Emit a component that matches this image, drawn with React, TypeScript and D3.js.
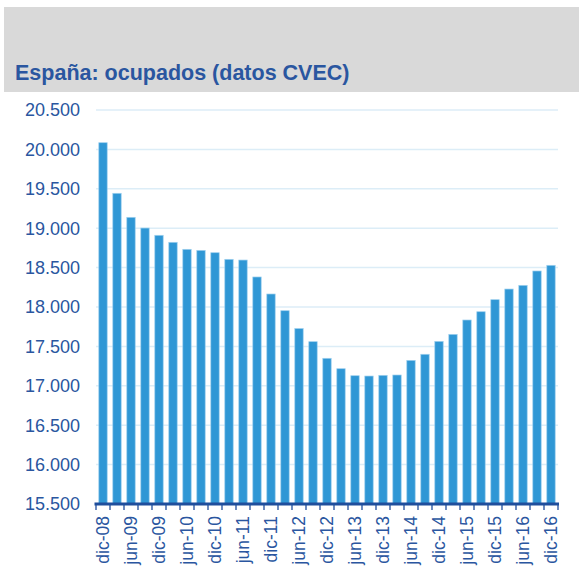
import React from "react";
import * as d3 from "d3";

const years = ["08", "09", "10", "11", "12", "13", "14", "15", "16"];
const months = ["mar", "jun", "sep", "dic"];

// quarterly periods dic-08 .. dic-16
const periods: string[] = ["dic-08"];
years.slice(1).forEach((y) => months.forEach((m) => periods.push(`${m}-${y}`)));

// ocupados, miles (CVEC)
const ocupados = [
  20085, 19443, 19138, 19002, 18910, 18821, 18732, 18719, 18689, 18605, 18596,
  18381, 18165, 17953, 17727, 17560, 17349, 17217, 17128, 17124, 17133, 17137,
  17323, 17400, 17564, 17653, 17835, 17940, 18093, 18228, 18275, 18457, 18529,
];

const yTicks = [15500, 16000, 16500, 17000, 17500, 18000, 18500, 19000, 19500, 20000, 20500];

const W = 579;
const H = 581;
const margin = { top: 110, right: 21, bottom: 77, left: 96 };
const blue = "#2a56a0";
const font = "Liberation Sans, Arial, sans-serif";

function drawChart(svgRef: React.RefObject<SVGSVGElement>) {
  const svg = d3.select(svgRef.current);
  svg.selectAll("*").remove();

  const x = d3
    .scaleBand<string>()
    .domain(periods)
    .range([margin.left, W - margin.right])
    .paddingInner(0.4)
    .paddingOuter(0.2);

  const y = d3
    .scaleLinear()
    .domain([15500, 20500])
    .range([H - margin.bottom, margin.top]);

  // header band
  svg.append("rect").attr("x", 4).attr("y", 7).attr("width", W - 4).attr("height", 85).attr("fill", "#d9d9d9");

  svg
    .append("text")
    .attr("x", 15)
    .attr("y", 80)
    .attr("font-family", font)
    .attr("font-weight", "bold")
    .attr("font-size", 21.5)
    .attr("fill", blue)
    .text("España: ocupados (datos CVEC)");

  // grid
  svg
    .append("g")
    .selectAll("line")
    .data(yTicks.slice(1))
    .join("line")
    .attr("x1", margin.left)
    .attr("x2", W - margin.right)
    .attr("y1", (d) => y(d))
    .attr("y2", (d) => y(d))
    .attr("stroke", "#dcedf7")
    .attr("stroke-width", 1.5);

  // y labels
  svg
    .append("g")
    .selectAll("text")
    .data(yTicks)
    .join("text")
    .attr("x", 80)
    .attr("y", (d) => y(d))
    .attr("dy", "0.35em")
    .attr("text-anchor", "end")
    .attr("font-family", font)
    .attr("font-size", 18)
    .attr("fill", blue)
    .text((d) => d3.format(",")(d).replace(",", "."));

  // bars
  svg
    .append("g")
    .selectAll("rect")
    .data(ocupados)
    .join("rect")
    .attr("x", (_, i) => x(periods[i])!)
    .attr("width", x.bandwidth())
    .attr("y", (d) => y(d))
    .attr("height", (d) => y(15500) - y(d))
    .attr("fill", "#2f97d5")
    .attr("stroke", "#9fd0ee")
    .attr("stroke-width", 0.7);

  // x axis
  const x0 = y(15500);
  const step = x.step();
  const edges = d3.range(periods.length + 1).map((i) => margin.left + i * step);
  svg
    .append("g")
    .selectAll("line")
    .data(edges)
    .join("line")
    .attr("x1", (d) => d)
    .attr("x2", (d) => d)
    .attr("y1", x0)
    .attr("y2", x0 + 6)
    .attr("stroke", "#1f4e9c")
    .attr("stroke-width", 1.3);
  svg
    .append("line")
    .attr("x1", margin.left - 1.5)
    .attr("x2", W - margin.right + 1)
    .attr("y1", x0)
    .attr("y2", x0)
    .attr("stroke", "#1f4e9c")
    .attr("stroke-width", 3);

  svg
    .append("g")
    .selectAll("text")
    .data(periods.filter((_, i) => i % 2 === 0))
    .join("text")
    .attr("transform", (d) => `translate(${x(d)! + x.bandwidth() / 2},${x0 + 12}) rotate(-90)`)
    .attr("dy", "0.35em")
    .attr("text-anchor", "end")
    .attr("font-family", font)
    .attr("font-size", 17.5)
    .attr("fill", blue)
    .text((d) => d);
}

const App: React.FunctionComponent = () => {
  const svg = React.useRef<SVGSVGElement>(null);

  React.useEffect(() => {
    drawChart(svg);
  }, [svg]);

  return (
    <div style={{ position: "absolute", left: 0, top: 0 }}>
      <svg ref={svg} width={W} height={H} style={{ display: "block", background: "#fff" }} />
    </div>
  );
};

export default App;
